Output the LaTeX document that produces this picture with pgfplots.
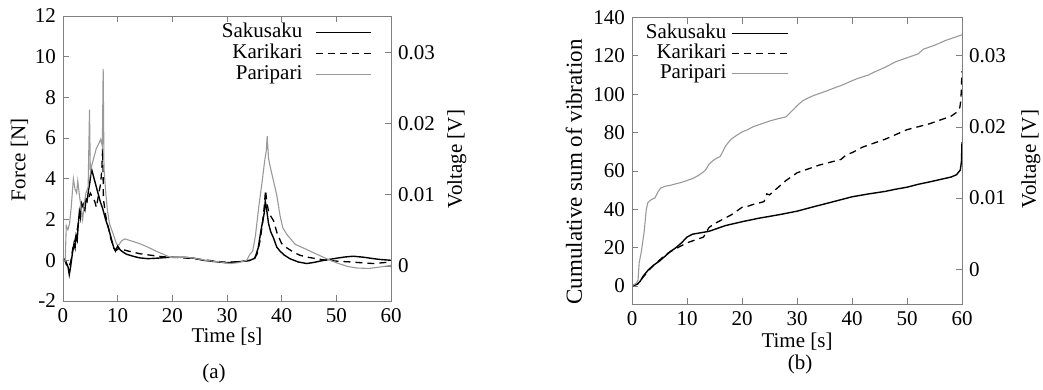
\documentclass[border=0pt]{standalone}
\usepackage{fontspec}
\setmainfont{Liberation Serif}
\usepackage{pgfplots}
\pgfplotsset{compat=1.18}
\newcommand{\ff}{\fontsize{21}{25}\selectfont}
\pgfplotsset{
  gp/.style={scale only axis, xmin=0, xmax=60,
    tick align=inside, major tick length=6pt,
    axis line style={black!50, line width=0.8pt},
    every tick/.style={black!50, line width=0.8pt},
    tick label style={font=\ff, black},
    label style={font=\ff},
    scaled y ticks=false, scaled x ticks=false,
  },
  saku/.style={black, line width=1.4pt},
  kari/.style={black, line width=1.3pt, dash pattern=on 7pt off 5pt},
  pari/.style={black!40, line width=1.1pt},
}
\begin{document}
\ff
\begin{tikzpicture}[x=1pt,y=1pt]
\path[use as bounding box] (0,0) rectangle (1043,389);
% ---------------- (a) ----------------
\begin{axis}[gp, at={(63pt,88pt)}, anchor=south west, width=328pt, height=285pt,
  ymin=-2, ymax=12,
  xtick={0,10,20,30,40,50,60}, xticklabels={0,10,20,30,40,50,60},
  ytick={-2,0,2,4,6,8,10,12}, yticklabels={-2,0,2,4,6,8,10,12},
  xtick pos=both, ytick pos=left,
  xlabel={Time [s]}, ylabel={Force [N]},
  every axis x label/.style={at={(axis description cs:0.5,-0.126)}, anchor=center},
  every axis y label/.style={at={(axis description cs:-0.1326,0.495)}, anchor=center, rotate=90},
  legend style={at={(axis description cs:0.942,0.975)}, anchor=north east, draw=none, fill=none,
    font=\ff, inner sep=0pt, row sep=3pt, nodes={inner sep=0pt, text height=14pt, text depth=4pt, font=\ff}},
  legend cell align=right, legend plot pos=right,
  legend image code/.code={\path (0pt,0pt); \draw[#1] (13pt,0pt) -- (68pt,0pt);},
]
\addplot[saku] coordinates {
(0,0) (0.3,0.05) (0.6,-0.2) (0.9,-0.3) (1.15,-0.7) (1.4,-0.3) (1.7,0.3) (2.0,0.8) (2.2,0.6) (2.4,1.2) (2.6,1.0) (2.8,1.8) (3.0,2.4) (3.2,2.1) (3.4,2.8) (3.7,2.6) (4.0,2.45) (4.2,3.0) (4.4,2.9) (4.7,3.5) (4.9,3.8) (5.2,4.5) (5.6,4.1) (6.2,3.5) (6.8,2.9) (7.3,2.5) (7.8,2.0) (8.3,1.6) (8.8,1.1) (9.3,0.6) (9.6,0.45) (10.0,0.7) (10.5,0.5) (11.0,0.4) (11.6,0.3) (12.8,0.2) (14,0.12) (15.5,0.08) (17,0.1) (19.6,0.15) (22,0.15) (24,0.1) (25.6,0.0) (28,-0.07) (29.9,-0.12) (32,-0.08) (34.2,0.0) (35.1,0.1) (35.7,0.6) (36.3,1.6) (36.8,2.3) (37.0,2.9) (37.2,2.6) (37.6,1.8) (38.0,1.4) (38.5,1.1) (39.1,0.65) (39.7,0.45) (40.5,0.25) (41.5,0.08) (43,-0.08) (44.6,-0.16) (46,-0.1) (47,-0.04) (48.2,0.02) (50,0.1) (51.5,0.16) (53.1,0.2) (55,0.15) (56.8,0.08) (58,0.04) (60,0.0)};
\addlegendentry{Sakusaku}
\addplot[kari] coordinates {
(0,0) (0.5,-0.05) (1.0,-0.35) (1.4,-0.1) (1.8,0.6) (2.2,1.0) (2.6,1.5) (3.0,2.1) (3.4,2.5) (3.8,2.8) (4.2,2.9) (4.6,3.0) (5.0,3.3) (5.4,3.1) (5.8,2.9) (6.1,2.6) (6.5,3.2) (6.9,3.8) (7.1,4.5) (7.25,5.5) (7.4,3.0) (7.8,2.2) (8.3,1.6) (8.8,1.0) (9.3,0.6) (9.8,0.5) (10.3,0.6) (11,0.52) (12,0.45) (14.1,0.32) (16,0.25) (18,0.18) (19.6,0.15) (22,0.12) (24,0.08) (26,0.02) (28,-0.05) (30,-0.1) (32,-0.07) (34,-0.02) (35,0.1) (35.5,0.3) (36,0.9) (36.5,1.8) (36.8,2.6) (37.05,3.45) (37.3,2.8) (37.7,2.3) (38.5,1.95) (39.2,1.3) (40.0,0.82) (41,0.6) (42.1,0.41) (43.3,0.25) (44.6,0.16) (46.5,0.07) (48.2,0.0) (50.5,-0.05) (52.5,-0.08) (54.5,-0.12) (56.8,-0.16) (58.5,-0.12) (60,-0.08)};
\addlegendentry{Karikari}
\addplot[pari] coordinates {
(0,0) (0.4,-0.05) (0.6,1.7) (0.9,1.5) (1.2,1.8) (1.5,2.6) (1.9,4.0) (2.2,3.5) (2.5,3.3) (2.7,3.9) (3.0,3.2) (3.3,2.6) (3.6,2.0) (3.9,2.8) (4.2,3.3) (4.6,3.6) (4.85,7.4) (5.0,4.3) (5.3,4.7) (5.7,5.1) (6.1,5.5) (6.5,5.7) (6.9,5.95) (7.2,5.6) (7.35,9.4) (7.5,4.5) (7.8,3.4) (8.1,2.5) (8.5,1.8) (8.9,1.5) (9.3,1.2) (9.8,0.8) (10.2,0.75) (10.7,0.95) (11.3,1.05) (12.5,0.95) (14,0.82) (15.5,0.65) (17,0.45) (18.5,0.28) (19.6,0.15) (21,0.15) (22.6,0.15) (24,0.1) (26,0.0) (28.7,-0.08) (30.5,-0.16) (32,-0.12) (33.6,0.0) (34.2,0.3) (34.7,0.45) (35.2,1.2) (35.8,2.6) (36.3,3.6) (36.9,4.9) (37.2,5.4) (37.35,6.1) (37.6,5.0) (37.9,4.6) (38.5,3.9) (39.1,3.2) (39.7,2.2) (40.2,1.6) (41,1.25) (42.5,0.78) (44,0.6) (46,0.35) (48.2,0.08) (50,-0.12) (52,-0.3) (53.7,-0.38) (56,-0.4) (58,-0.33) (60,-0.25)};
\addlegendentry{Paripari}
\end{axis}
\begin{axis}[gp, at={(63pt,88pt)}, anchor=south west, width=328pt, height=285pt,
  ymin=-0.0049, ymax=0.0351, hide x axis, ytick pos=right,
  ytick={0,0.01,0.02,0.03}, yticklabels={0,0.01,0.02,0.03},
  ylabel={Voltage [V]},
  every axis y label/.style={at={(axis description cs:1.201,0.498)}, anchor=center, rotate=90},
]
\addplot[draw=none] coordinates {(0,0)};
\end{axis}
\node[font=\ff] at (214,16) {(a)};
% ---------------- (b) ----------------
\begin{axis}[gp, at={(632pt,85pt)}, anchor=south west, width=330pt, height=286.5pt,
  ymin=-9.4, ymax=140,
  xtick={0,10,20,30,40,50,60}, xticklabels={0,10,20,30,40,50,60},
  ytick={0,20,40,60,80,100,120,140}, yticklabels={0,20,40,60,80,100,120,140},
  xtick pos=both, ytick pos=left,
  xlabel={Time [s]}, ylabel={Cumulative sum of vibration},
  every axis x label/.style={at={(axis description cs:0.5,-0.133)}, anchor=center},
  every axis y label/.style={at={(axis description cs:-0.176,0.461)}, anchor=center, rotate=90, font=\fontsize{23}{26}\selectfont},
  legend style={at={(axis description cs:0.476,0.977)}, anchor=north east, draw=none, fill=none,
    font=\ff, inner sep=0pt, row sep=2pt, nodes={inner sep=0pt, text height=14pt, text depth=4pt, font=\ff}},
  legend cell align=right, legend plot pos=right,
  legend image code/.code={\path (0pt,0pt); \draw[#1] (5pt,0pt) -- (61pt,0pt);},
]
\addplot[saku] coordinates {
(0,0) (1,1) (1.5,2.5) (2,5) (3,8.5) (4,11) (5,13) (6,15.5) (7,18) (8,20) (9,22.5) (10,25.5) (11,27) (12,27.5) (13,28) (14,28.5) (15,29.5) (16,30.5) (17,31.5) (20,33.5) (23,35.3) (26,36.8) (27,37.3) (30,39) (33,41.3) (36,43.5) (38,45) (40,46.5) (43,48) (46,49.3) (48,50.5) (50,51.5) (52,53) (54,54.2) (56,55.5) (58,56.8) (59,58) (59.7,60.5) (59.9,65) (60,75)};
\addlegendentry{Sakusaku}
\addplot[kari] coordinates {
(0,0) (1,1) (2,4.5) (3,8) (4,11) (5,13.5) (6,16) (7,18) (8,19.5) (9,21) (10,22.5) (11,23.5) (12,24.5) (13,25.5) (13.5,28) (14,30.5) (15,32.5) (16,34) (17,35.5) (18,37) (19,39) (20,41) (21,41.5) (22,42.5) (23,43.2) (24,44) (24.5,48) (25,47.5) (26,50) (27,52.5) (28,55) (29,57) (30,59) (32,61) (34,63) (36,64.5) (38,66) (39,68.5) (40,69.5) (42,72.5) (44,74.5) (46,76.5) (48,79) (50,81.5) (52,83) (54,84.5) (56,86.5) (58,88.5) (59,90.5) (59.6,93) (59.8,97) (60,112)};
\addlegendentry{Karikari}
\addplot[pari] coordinates {
(0,0) (0.8,1.5) (1.1,3) (1.3,12) (1.7,18) (2.2,28) (2.6,40) (2.9,43.5) (3.5,45) (4.2,46) (4.7,49) (5.2,51) (6,52) (7,52.5) (8,53.3) (9,54) (10,55) (11,56) (12,57.5) (13,59.5) (13.5,61) (14,63.5) (15,66) (16,67.5) (16.5,70) (17,73) (18,76.5) (19,78.5) (20,80.3) (21,81.5) (22,83) (23,84) (24,85) (25,86) (26,86.8) (27,87.5) (28,88.2) (29,91) (30,94) (31,96.5) (32,98) (33,99.3) (35,101.3) (37,103.5) (38,104.5) (40,107) (41,108.2) (43,110) (44,111.5) (46,114) (48,117) (50,119) (52,121) (53,123.5) (55,125.5) (57,128) (59,130) (60,131)};
\addlegendentry{Paripari}
\end{axis}
\begin{axis}[gp, at={(632pt,85pt)}, anchor=south west, width=330pt, height=286.5pt,
  ymin=-0.0049, ymax=0.0354, hide x axis, ytick pos=right,
  ytick={0,0.01,0.02,0.03}, yticklabels={0,0.01,0.02,0.03},
  ylabel={Voltage [V]},
  every axis y label/.style={at={(axis description cs:1.209,0.506)}, anchor=center, rotate=90},
]
\addplot[draw=none] coordinates {(0,0)};
\end{axis}
\node[font=\ff] at (800,25) {(b)};
\end{tikzpicture}
\end{document}
